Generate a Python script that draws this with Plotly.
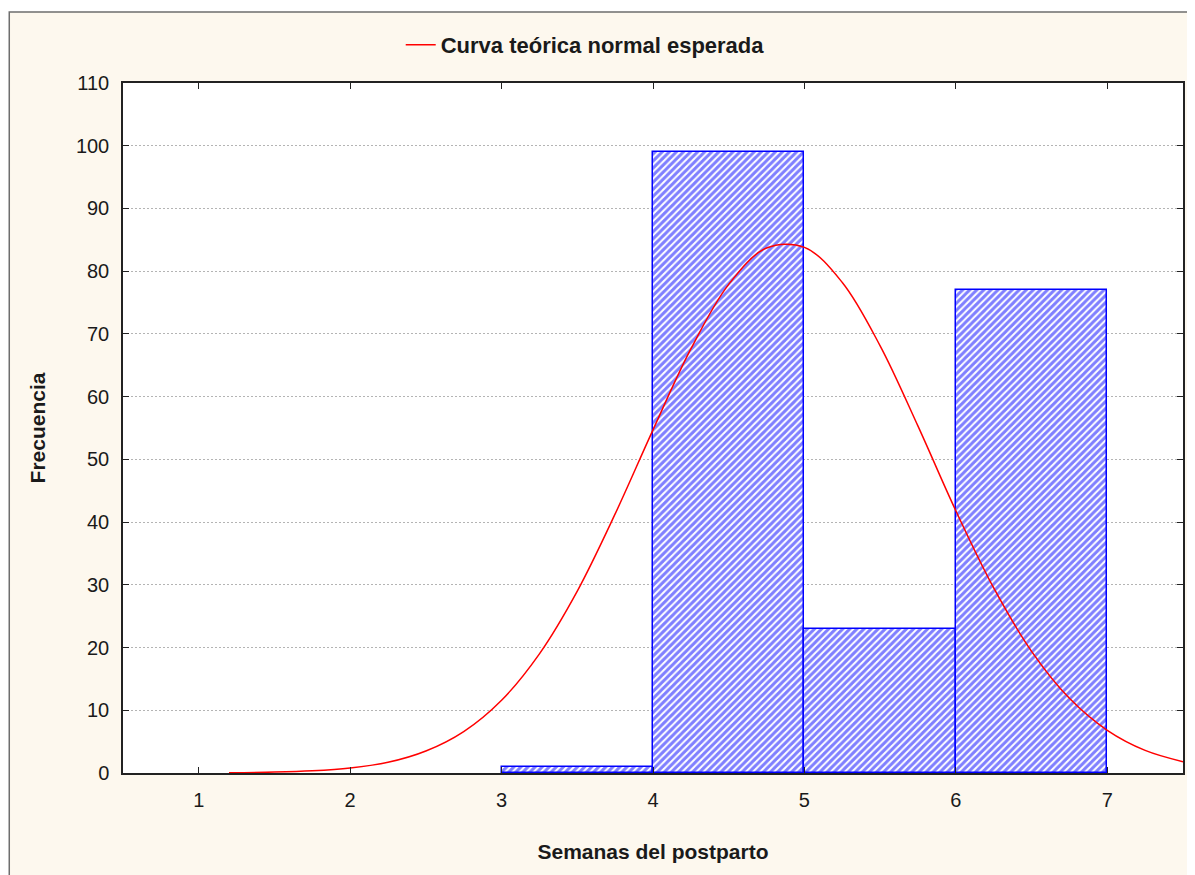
import plotly.graph_objects as go

# histogram bins (weeks postpartum) and counts
bin_left = [3, 4, 5, 6]
counts = [1, 99, 23, 77]

# expected normal curve
curve_x = [1.2, 1.5, 1.75, 2.0, 2.25, 2.5, 2.75, 3.0, 3.25, 3.5, 3.75, 4.0, 4.25,
           4.5, 4.75, 5.0, 5.25, 5.5, 5.75, 6.0, 6.25, 6.5, 6.75, 7.0, 7.25, 7.5]
curve_y = [0.04, 0.14, 0.35, 0.8, 1.7, 3.5, 6.6, 11.6, 19.0, 29.0, 41.3, 54.7, 67.6,
           77.9, 83.7, 83.8, 78.2, 68.1, 55.3, 41.8, 29.5, 19.4, 11.9, 6.8, 3.6, 1.8]

x_ticks = [1, 2, 3, 4, 5, 6, 7]
y_ticks = list(range(0, 111, 10))

font_family = "Liberation Sans, Arial, sans-serif"
cream = '#FDF8EE'
ink = '#1a1a1a'

fig = go.Figure()

fig.add_trace(go.Bar(x=bin_left, y=counts, width=1, offset=0,
                     marker=dict(color='white',
                                 line=dict(color='#0000FF', width=1.5),
                                 pattern=dict(shape='/', fgcolor='#0000FF', bgcolor='white',
                                              size=5, solidity=0.6)),
                     showlegend=False))

fig.add_trace(go.Scatter(x=curve_x, y=curve_y, mode='lines', line_shape='spline',
                         name='Curva teórica normal esperada',
                         line=dict(color='#FF0000', width=1.5)))

# cream frame behind everything, then white plot area on top of it
fig.add_shape(type='rect', xref='paper', yref='paper', x0=-0.1073, x1=1.05, y0=-0.2, y1=1.1029,
              fillcolor=cream, line=dict(color='#6E6E6E', width=1.5), layer='below')
fig.add_shape(type='rect', xref='paper', yref='paper', x0=0, x1=1, y0=0, y1=1,
              fillcolor='white', line=dict(width=0), layer='below')

fig.update_xaxes(range=[0.5, 7.5], tickvals=x_ticks, ticks='inside', ticklen=6,
                 tickcolor='#222222', showline=True, linecolor='#222222', linewidth=1.5,
                 mirror='ticks', showgrid=False, zeroline=False, ticklabelstandoff=8,
                 tickfont=dict(size=20), layer='above traces',
                 title=dict(text='<b>Semanas del postparto</b>', standoff=35,
                            font=dict(size=21, color=ink)))
fig.update_yaxes(range=[0, 110], tickvals=y_ticks, ticks='inside', ticklen=6,
                 tickcolor='#222222', showline=True, linecolor='#222222', linewidth=1.5,
                 mirror='ticks', showgrid=True, gridcolor='#B4B4B4', griddash='2px,2px',
                 gridwidth=1, zeroline=False, ticklabelstandoff=8,
                 tickfont=dict(size=20), layer='above traces',
                 title=dict(text='<b>Frecuencia</b>', standoff=25,
                            font=dict(size=21, color=ink)))

# the page body adds an 8px offset, so the figure is 8px smaller than the window
fig.update_layout(width=1187, height=867,
                  margin=dict(l=115, r=10, t=75, b=102),
                  paper_bgcolor='white', plot_bgcolor='white',
                  font=dict(family=font_family, size=20, color=ink),
                  bargap=0,
                  legend=dict(x=0.262, y=1.055, xanchor='left', yanchor='middle',
                              bgcolor='rgba(0,0,0,0)', font=dict(size=22, weight='bold')))

fig.write_html("out.html")
